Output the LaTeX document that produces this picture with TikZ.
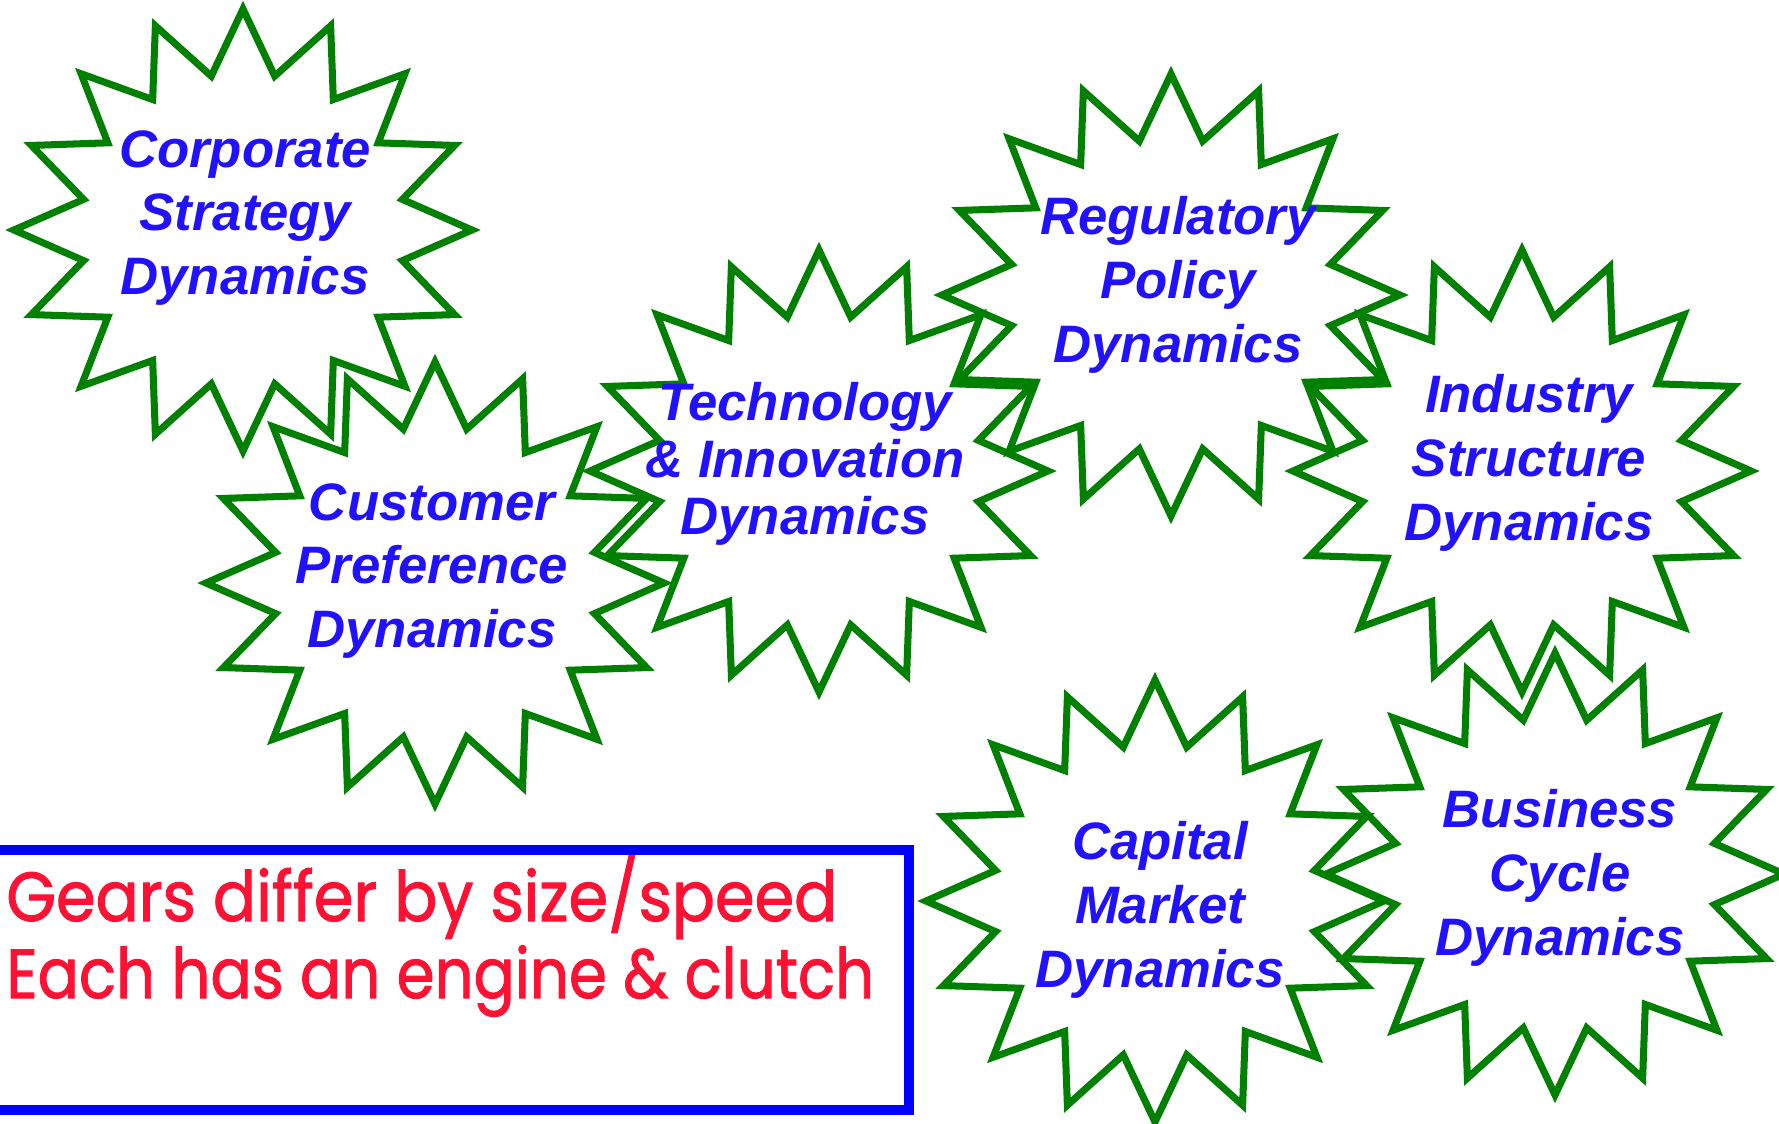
\documentclass[tikz,border=0pt]{standalone}
\usepackage{fontspec}
\newfontfamily\gearfont{Liberation Sans}
\newfontfamily\notefont{Poppins}[FakeBold=1.5]
\definecolor{gearGreen}{RGB}{0,128,0}
\definecolor{gearBlue}{RGB}{34,17,255}
\definecolor{noteRed}{RGB}{255,17,51}
\definecolor{noteBlue}{RGB}{0,0,255}
\tikzset{
  gearline/.style={draw=gearGreen, line width=4pt, miter limit=20},
  geartext/.style={text=gearBlue, align=center, inner sep=0pt,
    font=\gearfont\bfseries\itshape\fontsize{30}{36.3}\selectfont},
  notetext/.style={text=noteRed, anchor=base west, inner sep=0pt,
    font=\notefont\fontsize{39.5}{44}\selectfont},
  gear/.pic={
    \draw[gearline] (0,221) \foreach \k in {1,...,31} {
      -- ({229*(1-0.29*mod(\k,2))*cos(90+11.25*\k)},{221*(1-0.29*mod(\k,2))*sin(90+11.25*\k)}) } -- cycle;
  }
}
\begin{document}
\begin{tikzpicture}[x=0.02cm, y=-0.02cm]
  \useasboundingbox (0,0) rectangle (1779,1123);
  \clip (0,0) rectangle (1779,1123);

  % the gears
  \pic (corpgear) at (243,230) {gear};
  \pic (custgear) at (435,583) {gear};
  \pic (techgear) at (819,471) {gear};
  \pic (reggear) at (1171,295) {gear};
  \pic (indgear) at (1522,471) {gear};
  \pic (capgear) at (1155,901) {gear};
  \pic (busgear) at (1555,874) {gear};

  \node[geartext] (corp) at (245,218) {Corporate\\Strategy\\Dynamics};
  \node[geartext] (cust) at (432,571) {Customer\\Preference\\Dynamics};
  \node[geartext, font=\gearfont\bfseries\itshape\fontsize{30}{32.6}\selectfont]
    (tech) at (805,464) {Technology\\\& Innovation\\Dynamics};
  \node[geartext] (reg) at (1178,285) {Regulatory\\Policy\\Dynamics};
  \node[geartext] (ind) at (1529,463) {Industry\\Structure\\Dynamics};
  \node[geartext] (cap) at (1160,910) {Capital\\Market\\Dynamics};
  \node[geartext] (bus) at (1560,878) {Business\\Cycle\\Dynamics};

  % note box
  \draw[noteBlue, line width=5.7pt] (-20,850) rectangle (909,1110);
  \node[notetext] (note1) at (6,921) {\scalebox{0.92}[1]{Gears differ by size/speed}};
  \node[notetext] (note2) at (6,998) {\scalebox{0.88}[1]{Each has an engine \& clutch}};
\end{tikzpicture}
\end{document}
